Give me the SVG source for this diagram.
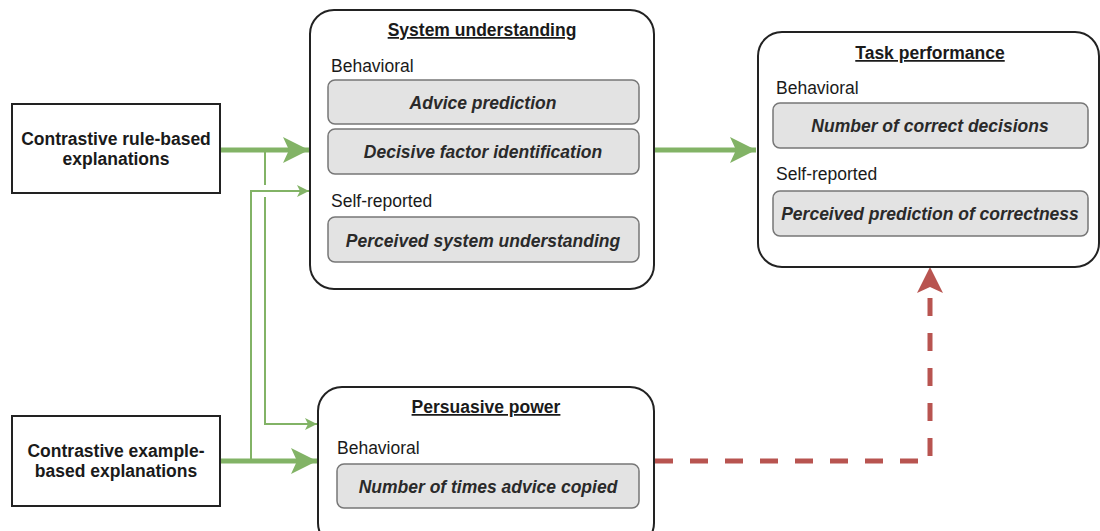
<svg xmlns="http://www.w3.org/2000/svg" width="1100" height="531" viewBox="0 0 1100 531">
<style>
text{font-family:"Liberation Sans",Arial,sans-serif;font-size:17.5px;fill:#1a1a1a}
.src{fill:#fff;stroke:#222;stroke-width:2}
.grp{fill:#fff;stroke:#222;stroke-width:2}
.inner{fill:#e3e3e3;stroke:#777;stroke-width:1.5}
.b{font-weight:bold}
.t{font-weight:bold;text-decoration:underline;text-anchor:middle}
.it{font-weight:bold;font-style:italic;text-anchor:middle;fill:#2a2a2a}
.c{text-anchor:middle}
.thick{fill:none;stroke:#82b366;stroke-width:5}
.thin{fill:none;stroke:#82b366;stroke-width:2}
.red{fill:none;stroke:#b85450;stroke-width:5;stroke-dasharray:18 17}
</style>
<defs>
<marker id="bigG" markerUnits="userSpaceOnUse" markerWidth="28" markerHeight="28" refX="26" refY="13" orient="auto"><path d="M0,0 L26,13 L0,26 L6,13 Z" fill="#82b366"/></marker>
<marker id="smG" markerUnits="userSpaceOnUse" markerWidth="14" markerHeight="14" refX="12" refY="6" orient="auto"><path d="M0,0 L12,6 L0,12 L3,6 Z" fill="#82b366"/></marker>
<marker id="bigR" markerUnits="userSpaceOnUse" markerWidth="28" markerHeight="28" refX="26" refY="13" orient="auto"><path d="M0,0 L26,13 L0,26 L6,13 Z" fill="#b85450"/></marker>
</defs>
<g id="connectors">
<path class="thick" d="M220,150 L309,150" marker-end="url(#bigG)"/>
<path class="thin" d="M265,150 L265,185"/>
<path class="thin" d="M265,197 L265,424 L317,424" marker-end="url(#smG)"/>
<path class="thin" d="M251,461 L251,191 L309,191" marker-end="url(#smG)"/>
<path class="thick" d="M220,461 L317,461" marker-end="url(#bigG)"/>
<path class="thick" d="M655,150 L756,150" marker-end="url(#bigG)"/>
<path class="red" d="M655,461 L930,461 L930,293"/>
<path d="M930,267 L943,293 L930,287 L917,293 Z" fill="#b85450"/>
</g>
<g id="rule-based">
<rect class="src" x="12" y="104" width="208" height="89"/>
<text class="b c" x="116" y="145">Contrastive rule-based</text>
<text class="b c" x="116" y="165">explanations</text>
</g>
<g id="example-based">
<rect class="src" x="12" y="416" width="208" height="90"/>
<text class="b c" x="116" y="457">Contrastive example-</text>
<text class="b c" x="116" y="477">based explanations</text>
</g>
<g id="system-understanding">
<rect class="grp" x="310" y="10" width="344" height="279" rx="24"/>
<text class="t" x="482" y="36">System understanding</text>
<text x="331" y="72">Behavioral</text>
<rect class="inner" x="328" y="80" width="311" height="44" rx="7"/>
<text class="it" x="483" y="109">Advice prediction</text>
<rect class="inner" x="328" y="129" width="311" height="45" rx="7"/>
<text class="it" x="483" y="158">Decisive factor identification</text>
<text x="331" y="207">Self-reported</text>
<rect class="inner" x="328" y="217" width="311" height="45" rx="7"/>
<text class="it" x="483" y="247">Perceived system understanding</text>
</g>
<g id="task-performance">
<rect class="grp" x="758" y="32" width="341" height="235" rx="24"/>
<text class="t" x="930" y="59">Task performance</text>
<text x="776" y="94">Behavioral</text>
<rect class="inner" x="773" y="103" width="315" height="45" rx="7"/>
<text class="it" x="930" y="132">Number of correct decisions</text>
<text x="776" y="180">Self-reported</text>
<rect class="inner" x="773" y="191" width="315" height="45" rx="7"/>
<text class="it" x="930" y="220">Perceived prediction of correctness</text>
</g>
<g id="persuasive-power">
<rect class="grp" x="318" y="387" width="336" height="160" rx="24"/>
<text class="t" x="486" y="413">Persuasive power</text>
<text x="337" y="454">Behavioral</text>
<rect class="inner" x="337" y="464" width="302" height="44" rx="7"/>
<text class="it" x="488" y="493">Number of times advice copied</text>
</g>
</svg>
